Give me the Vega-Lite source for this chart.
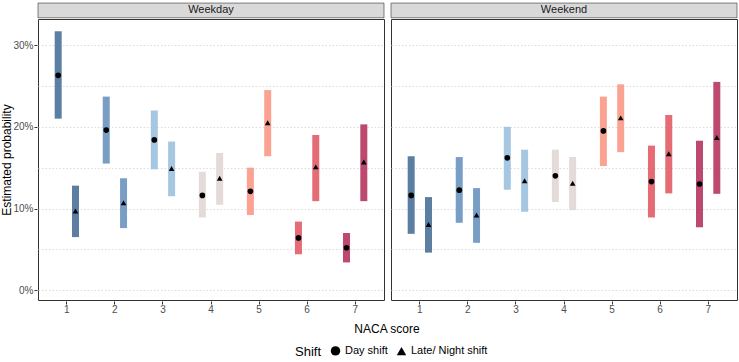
{
  "$schema": "https://vega.github.io/schema/vega-lite/v6.json",
  "padding": {"left": 0, "top": 2, "right": 0, "bottom": 4},
  "background": "white",
  "data": {
    "values": [
      {"period": "Weekday", "naca": 1, "shift": "Day shift", "est": 26.3, "lo": 21.0, "hi": 31.7},
      {"period": "Weekday", "naca": 1, "shift": "Late/ Night shift", "est": 9.7, "lo": 6.5, "hi": 12.8},
      {"period": "Weekday", "naca": 2, "shift": "Day shift", "est": 19.6, "lo": 15.5, "hi": 23.7},
      {"period": "Weekday", "naca": 2, "shift": "Late/ Night shift", "est": 10.7, "lo": 7.6, "hi": 13.7},
      {"period": "Weekday", "naca": 3, "shift": "Day shift", "est": 18.4, "lo": 14.8, "hi": 22.0},
      {"period": "Weekday", "naca": 3, "shift": "Late/ Night shift", "est": 14.9, "lo": 11.5, "hi": 18.2},
      {"period": "Weekday", "naca": 4, "shift": "Day shift", "est": 11.6, "lo": 8.9, "hi": 14.5},
      {"period": "Weekday", "naca": 4, "shift": "Late/ Night shift", "est": 13.7, "lo": 10.45, "hi": 16.8},
      {"period": "Weekday", "naca": 5, "shift": "Day shift", "est": 12.1, "lo": 9.2, "hi": 15.0},
      {"period": "Weekday", "naca": 5, "shift": "Late/ Night shift", "est": 20.5, "lo": 16.4, "hi": 24.5},
      {"period": "Weekday", "naca": 6, "shift": "Day shift", "est": 6.4, "lo": 4.4, "hi": 8.4},
      {"period": "Weekday", "naca": 6, "shift": "Late/ Night shift", "est": 15.1, "lo": 10.9, "hi": 19.0},
      {"period": "Weekday", "naca": 7, "shift": "Day shift", "est": 5.2, "lo": 3.4, "hi": 7.0},
      {"period": "Weekday", "naca": 7, "shift": "Late/ Night shift", "est": 15.7, "lo": 10.9, "hi": 20.3},
      {"period": "Weekend", "naca": 1, "shift": "Day shift", "est": 11.6, "lo": 6.9, "hi": 16.4},
      {"period": "Weekend", "naca": 1, "shift": "Late/ Night shift", "est": 8.05, "lo": 4.6, "hi": 11.4},
      {"period": "Weekend", "naca": 2, "shift": "Day shift", "est": 12.25, "lo": 8.25, "hi": 16.3},
      {"period": "Weekend", "naca": 2, "shift": "Late/ Night shift", "est": 9.2, "lo": 5.8, "hi": 12.5},
      {"period": "Weekend", "naca": 3, "shift": "Day shift", "est": 16.2, "lo": 12.3, "hi": 20.0},
      {"period": "Weekend", "naca": 3, "shift": "Late/ Night shift", "est": 13.4, "lo": 9.6, "hi": 17.2},
      {"period": "Weekend", "naca": 4, "shift": "Day shift", "est": 14.0, "lo": 10.8, "hi": 17.2},
      {"period": "Weekend", "naca": 4, "shift": "Late/ Night shift", "est": 13.1, "lo": 9.8, "hi": 16.3},
      {"period": "Weekend", "naca": 5, "shift": "Day shift", "est": 19.5, "lo": 15.2, "hi": 23.7},
      {"period": "Weekend", "naca": 5, "shift": "Late/ Night shift", "est": 21.1, "lo": 16.9, "hi": 25.2},
      {"period": "Weekend", "naca": 6, "shift": "Day shift", "est": 13.3, "lo": 8.9, "hi": 17.7},
      {"period": "Weekend", "naca": 6, "shift": "Late/ Night shift", "est": 16.7, "lo": 11.85, "hi": 21.45},
      {"period": "Weekend", "naca": 7, "shift": "Day shift", "est": 13.0, "lo": 7.7, "hi": 18.3},
      {"period": "Weekend", "naca": 7, "shift": "Late/ Night shift", "est": 18.7, "lo": 11.8, "hi": 25.5}
    ]
  },
  "facet": {
    "column": {
      "field": "period",
      "type": "nominal",
      "header": {
        "title": "NACA score",
        "titleOrient": "bottom",
        "titleFont": "Liberation Sans",
        "titleFontSize": 12,
        "titleFontWeight": "normal",
        "titleColor": "black",
        "titlePadding": 0,
        "labels": false
      }
    }
  },
  "spacing": {"column": 5},
  "spec": {
    "width": 346,
    "height": 281,
    "encoding": {
      "x": {
        "field": "naca",
        "type": "ordinal",
        "scale": {"paddingInner": 0, "paddingOuter": 0.1},
        "axis": {
          "title": null,
          "labelAngle": 0,
          "labelFont": "Liberation Sans",
          "labelFontSize": 10,
          "labelColor": "#4d4d4d",
          "tickColor": "#333333",
          "tickSize": 3,
          "labelPadding": 0,
          "domain": false,
          "grid": false
        }
      }
    },
    "layer": [
      {
        "transform": [{"aggregate": [{"op": "count", "as": "n"}], "groupby": ["period"]}],
        "mark": {"type": "rect", "fill": "#d9d9d9", "stroke": "#333333", "strokeWidth": 0.6, "clip": false},
        "encoding": {
          "x": {"value": 0},
          "x2": {"value": "width"},
          "y": {"datum": 35.15},
          "y2": {"datum": 33.35}
        }
      },
      {
        "transform": [{"aggregate": [{"op": "count", "as": "n"}], "groupby": ["period"]}],
        "mark": {"type": "text", "font": "Liberation Sans", "fontSize": 11, "color": "#1a1a1a", "baseline": "middle", "clip": false},
        "encoding": {
          "x": {"datum": 4},
          "y": {"datum": 34.25},
          "text": {"field": "period"}
        }
      },
      {
        "mark": {"type": "rule", "strokeWidth": 7, "strokeCap": "butt", "opacity": 0.92},
        "encoding": {
          "xOffset": {
            "field": "shift",
            "type": "nominal",
            "scale": {"domain": ["Day shift", "Late/ Night shift"], "paddingInner": 0.597, "paddingOuter": 0.6875}
          },
          "y": {
            "field": "lo",
            "type": "quantitative",
            "scale": {"domain": [-1.2, 33.2], "nice": false, "zero": false},
            "axis": {
              "title": "Estimated probability",
              "titleFont": "Liberation Sans",
              "titleFontSize": 12,
              "titleFontWeight": "normal",
              "titleColor": "black",
              "titlePadding": -1,
              "values": [0, 5, 10, 15, 20, 25, 30],
              "labelExpr": "datum.value % 10 === 0 ? datum.value + '%' : ''",
              "labelFont": "Liberation Sans",
              "labelFontSize": 10,
              "labelColor": "#4d4d4d",
              "labelPadding": 1,
              "tickColor": "#333333",
              "tickSize": 3,
              "tickOpacity": {"condition": {"test": "datum.value % 10 === 0", "value": 1}, "value": 0},
              "domain": false,
              "grid": true,
              "gridColor": "#dcdcdc",
              "gridDash": [1.5, 2],
              "gridWidth": 1
            }
          },
          "y2": {"field": "hi"},
          "color": {
            "field": "naca",
            "type": "ordinal",
            "scale": {
              "domain": [1, 2, 3, 4, 5, 6, 7],
              "range": ["#4f739b", "#6e96c0", "#9dc2e0", "#e2d8d6", "#fb9a8a", "#e35f69", "#b73b62"]
            },
            "legend": null
          }
        }
      },
      {
        "mark": {"type": "point", "filled": true, "opacity": 1, "color": "black"},
        "encoding": {
          "xOffset": {
            "field": "shift",
            "type": "nominal",
            "scale": {"domain": ["Day shift", "Late/ Night shift"], "paddingInner": 0.597, "paddingOuter": 0.6875}
          },
          "y": {"field": "est", "type": "quantitative"},
          "shape": {
            "field": "shift",
            "type": "nominal",
            "scale": {"domain": ["Day shift", "Late/ Night shift"], "range": ["circle", "triangle-up"]},
            "legend": {
              "title": "Shift",
              "orient": "none",
              "legendX": 257,
              "legendY": 326,
              "direction": "horizontal",
              "titleOrient": "left",
              "titleFont": "Liberation Sans",
              "titleFontSize": 13,
              "titleFontWeight": "normal",
              "titleColor": "black",
              "titlePadding": 8,
              "labelFont": "Liberation Sans",
              "labelFontSize": 11,
              "labelColor": "black",
              "symbolFillColor": "black",
              "symbolStrokeColor": "black",
              "symbolSize": 90,
              "columnPadding": 5,
              "padding": 0
            }
          },
          "size": {"value": 32}
        }
      }
    ]
  },
  "resolve": {"scale": {"y": "shared"}},
  "config": {
    "view": {"stroke": "#333333", "strokeWidth": 1},
    "font": "Liberation Sans"
  }
}
